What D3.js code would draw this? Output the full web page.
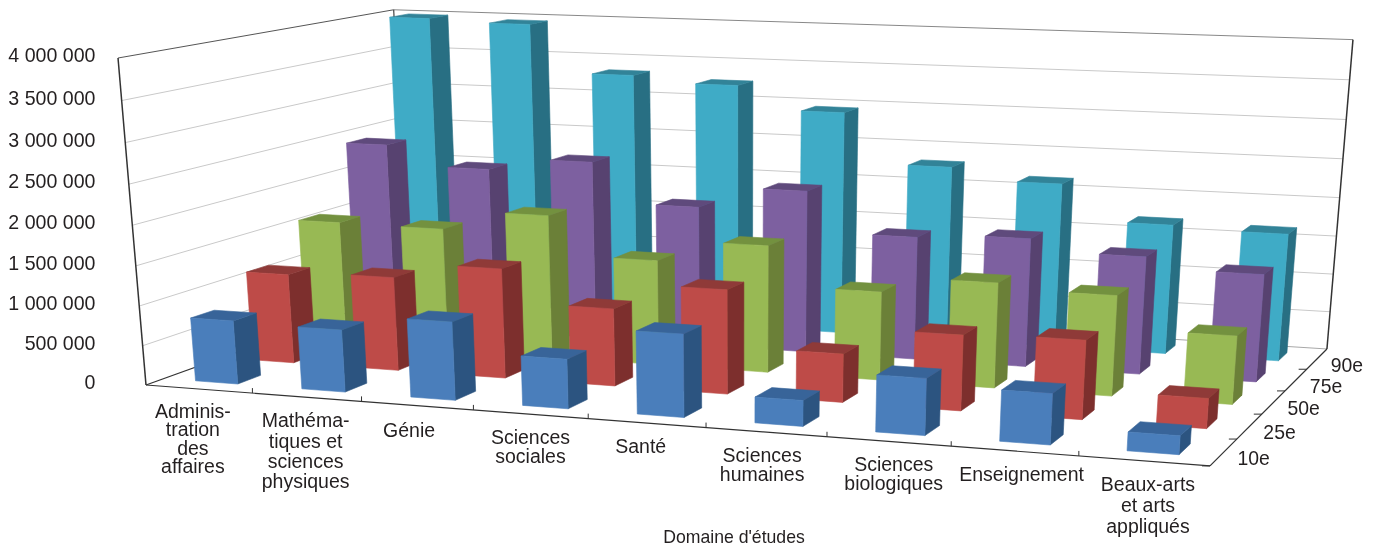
<!DOCTYPE html>
<html><head><meta charset="utf-8">
<script src="https://cdnjs.cloudflare.com/ajax/libs/d3/7.8.5/d3.min.js"></script>
<style>html,body{margin:0;padding:0;background:#fff}svg{display:block;filter:blur(.4px)}text{font-family:"Liberation Sans",Arial,sans-serif;fill:#231f20}</style>
</head><body><svg id="c" width="1375" height="548"></svg>
<script>
const categories=[["Adminis-","tration","des","affaires"],["Mathéma-","tiques et","sciences","physiques"],["Génie"],["Sciences","sociales"],["Santé"],["Sciences","humaines"],["Sciences","biologiques"],["Enseignement"],["Beaux-arts","et arts","appliqués"]];
const seriesNames=["10e","25e","50e","75e","90e"];
const p10=[802000,780000,972000,610000,1010000,313000,679000,604000,220000];
const p25=[1150000,1196000,1390000,975000,1300000,600000,927000,960000,363000];
const p50=[1610000,1600000,1850000,1350000,1620000,1120000,1320000,1250000,845000];
const p75=[2450000,2190000,2350000,1830000,2110000,1590000,1650000,1500000,1360000];
const p90=[3990000,3955000,3330000,3250000,2950000,2300000,2150000,1690000,1650000];
const seriesValues=[p10,p25,p50,p75,p90];
const valueTicks=[0,500000,1000000,1500000,2000000,2500000,3000000,3500000,4000000];
const axisTitle="Domaine d'études";

const palette=[
 {front:"#4a7ebb",side:"#2c5480",top:"#386499"},
 {front:"#be4b48",side:"#7d2f2d",top:"#8f3a38"},
 {front:"#98b954",side:"#6b8038",top:"#73913f"},
 {front:"#7d60a0",side:"#574270",top:"#5f4a7c"},
 {front:"#3fabc6",side:"#286f83",top:"#328398"}];
// label layout
const labelDx=[-6,-1,-8,0,-6,-4,5,7,4], labelDy=[-2,-1,0,-1,-1,-1,-1,-1,-1], labelLead=[18.4,20.3,0,19,0,19,19,0,21];

// perspective camera: origin + three vanishing directions
const O=[146,385,1];
const vp=(from,to,v)=>{const s=(to-from)/(v[0]-to);return [v[0]*s,v[1]*s,s];};
const mU=vp(146,1210,[-8376,-263]), mV=vp(146,407,[1936,-260]);
const sH=(58-385)/(7327-58), mH=[740*sH,7327*sH,sH];
const proj=(u,v,h)=>{const w=O[2]+u*mU[2]+v*mV[2]+h*mH[2];
 return [(O[0]+u*mU[0]+v*mV[0]+h*mH[0])/w,(O[1]+u*mU[1]+v*mV[1]+h*mH[1])/w];};

const catIdx=d3.range(categories.length), serIdx=d3.range(seriesNames.length);
const xBand=d3.scaleBand().domain(catIdx).range([0,1]).paddingInner(.6).paddingOuter(.3);
const zBand=d3.scaleBand().domain(serIdx).range([0,1]).paddingInner(.6).paddingOuter(.3);
const yScale=d3.scaleLinear().domain([0,4000000]).range([0,1]);
const fmt=d3.formatLocale({thousands:" ",grouping:[3],decimal:",",currency:["",""]}).format(",d");
const svg=d3.select("#c");
const line=d3.line();
const seg=(g,a,b,col,w)=>g.append("path").attr("d",line([a,b])).attr("stroke",col).attr("stroke-width",w).attr("fill","none");

const walls=svg.append("g");
walls.selectAll("path.grid").data(valueTicks.filter(d=>d>0&&d<4000000)).join("path").attr("class","grid")
 .attr("d",d=>{const h=yScale(d);return line([proj(0,0,h),proj(0,1,h),proj(1,1,h)]);})
 .attr("fill","none").attr("stroke","#c9c9c9").attr("stroke-width",1);
seg(walls,proj(0,1,0),proj(1,1,0),"#a8a8a8",1);
seg(walls,proj(0,0,1),proj(0,1,1),"#555",1);
seg(walls,proj(0,1,1),proj(1,1,1),"#888",1);
seg(walls,proj(0,1,0),proj(0,1,1),"#444",1.2);
seg(walls,proj(0,0,0),proj(0,0,1),"#333",1.5);
seg(walls,proj(1,1,0),proj(1,1,1),"#333",1.5);
seg(walls,proj(0,0,0),proj(0,1,0),"#333",1.2);
seg(walls,proj(0,0,0),proj(1,0,0),"#333",1.2);
seg(walls,proj(1,0,0),proj(1,1,0),"#333",1.2);

// category ticks and series ticks
walls.selectAll("path.ct").data(d3.range(1,categories.length)).join("path").attr("class","ct")
 .attr("d",i=>{const p=proj(i/categories.length,0,0);return line([p,[p[0],p[1]-5]]);}).attr("stroke","#333").attr("fill","none");
walls.selectAll("path.st").data(d3.range(0,seriesNames.length)).join("path").attr("class","st")
 .attr("d",j=>{const p=proj(1,j/seriesNames.length,0);return line([p,[p[0]-8,p[1]]]);}).attr("stroke","#333").attr("fill","none");

// bars back to front, left to right
const bars=[];
[...serIdx].reverse().forEach(j=>catIdx.forEach(i=>bars.push({i,j,value:seriesValues[j][i]})));
const faces=d=>{const u0=xBand(d.i),u1=u0+xBand.bandwidth(),v0=zBand(d.j),v1=v0+zBand.bandwidth(),h=yScale(d.value);
 return [
  {k:"side",p:[proj(u1,v0,0),proj(u1,v1,0),proj(u1,v1,h),proj(u1,v0,h)]},
  {k:"top",p:[proj(u0,v0,h),proj(u1,v0,h),proj(u1,v1,h),proj(u0,v1,h)]},
  {k:"front",p:[proj(u0,v0,0),proj(u1,v0,0),proj(u1,v0,h),proj(u0,v0,h)]}
 ].map(f=>({...f,col:palette[d.j][f.k]}));};
svg.append("g").selectAll("g").data(bars).join("g").selectAll("path").data(faces).join("path")
 .attr("d",f=>line(f.p)+"Z").attr("fill",f=>f.col).attr("stroke",f=>f.col).attr("stroke-width",.6);

// value labels
svg.append("g").selectAll("text").data(valueTicks).join("text")
 .attr("transform",d=>`translate(95.5,${proj(0,0,yScale(d))[1]+4}) scale(.98,1)`).attr("text-anchor","end")
 .attr("font-size",20).text(d=>fmt(d));

// category labels: one text per label, lines as tspans
const cl=svg.append("g").selectAll("text").data(categories).join("text")
 .attr("transform",(d,i)=>{const p=proj(xBand(i)+xBand.bandwidth()/2,0,0);return `translate(${p[0]+labelDx[i]},${p[1]+31+labelDy[i]}) scale(.975,1)`;})
 .attr("text-anchor","middle").attr("font-size",20);
cl.each(function(lines,i){d3.select(this).selectAll("tspan").data(lines).join("tspan")
 .attr("x",0).attr("y",(d,k)=>k*labelLead[i]).text(d=>d);});

// series labels
svg.append("g").selectAll("text").data(seriesNames).join("text")
 .attr("transform",(d,j)=>{const p=proj(1,zBand(j)+zBand.bandwidth()/2,0);return `translate(${p[0]+30},${p[1]+13}) scale(.97,1)`;})
 .attr("text-anchor","middle").attr("font-size",20).text(d=>d);

svg.append("text").attr("transform","translate(734,543) scale(.98,1)").attr("text-anchor","middle").attr("font-size",18).text(axisTitle);
</script></body></html>
